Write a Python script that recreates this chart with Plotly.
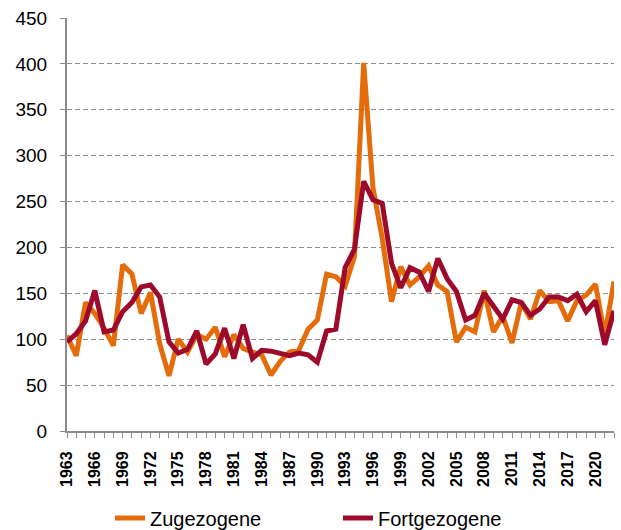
import plotly.graph_objects as go

years = list(range(1963, 2023))

zugezogene = [104, 82, 140, 128, 112, 93, 181, 171, 128, 151,
              95, 60, 100, 86, 105, 100, 113, 81, 105, 90,
              86, 83, 61, 76, 86, 88, 111, 121, 171, 168,
              158, 190, 401, 265, 210, 141, 179, 159, 168, 180,
              159, 152, 97, 113, 108, 153, 108, 125, 96, 140,
              122, 153, 141, 142, 120, 142, 148, 160, 104, 163]

fortgezogene = [97, 106, 120, 153, 108, 110, 130, 140, 157, 159,
                146, 97, 85, 89, 109, 73, 84, 112, 79, 116,
                79, 88, 87, 85, 82, 85, 83, 75, 109, 111,
                178, 198, 272, 252, 248, 183, 156, 178, 173, 152,
                188, 166, 152, 121, 126, 150, 137, 122, 143, 140,
                126, 133, 146, 146, 142, 149, 130, 142, 94, 131]

x_tickvals = list(range(1963, 2021, 3))
x_ticktext = [str(v) for v in x_tickvals]
y_tickvals = list(range(0, 451, 50))

ORANGE = "#E46C0A"
DARKRED = "#9E0A2B"
AXIS = "#8C8C8C"

fig = go.Figure()
fig.add_trace(go.Scatter(x=years, y=zugezogene, mode="lines", name="Zugezogene",
                         line=dict(color=ORANGE, width=5)))
fig.add_trace(go.Scatter(x=years, y=fortgezogene, mode="lines", name="Fortgezogene",
                         line=dict(color=DARKRED, width=5)))

fig.update_layout(
    width=621, height=530,
    margin=dict(l=67, r=7, t=18, b=99, autoexpand=False),
    paper_bgcolor="white", plot_bgcolor="white",
    font=dict(family="Arial, Liberation Sans, sans-serif", color="#000000"),
    showlegend=True,
    legend=dict(orientation="h", xref="container", yref="container",
                x=110 / 621, y=1 - 518 / 530, xanchor="left", yanchor="middle",
                entrywidth=183, entrywidthmode="pixels",
                font=dict(size=20, color="#000000"),
                bgcolor="rgba(0,0,0,0)", itemclick=False),
    xaxis=dict(
        range=[1963, 2022], showgrid=False, zeroline=False, automargin=False,
        showline=True, linecolor=AXIS, linewidth=2,
        tickmode="array", tickvals=x_tickvals, ticktext=x_ticktext,
        tickangle=-90, ticks="outside", ticklen=5, tickcolor=AXIS, tickwidth=1.3,
        ticklabelstandoff=7,
        tickfont=dict(family="Arial, Liberation Sans, sans-serif",
                      size=16, weight="bold", color="#000000"),
        minor=dict(dtick=1, tick0=1963, ticks="outside", ticklen=5,
                   tickcolor=AXIS, tickwidth=1.3, showgrid=False),
    ),
    yaxis=dict(
        range=[0, 450], tickmode="array", tickvals=y_tickvals, automargin=False,
        showgrid=True, gridcolor=AXIS, gridwidth=1.3, griddash="5px,3px",
        zeroline=False, showline=True, linecolor=AXIS, linewidth=2,
        ticks="outside", ticklen=5, tickcolor=AXIS, tickwidth=1.3,
        ticklabelstandoff=9,
        tickfont=dict(size=19, color="#000000"),
    ),
)

fig.write_html("out.html", config={"displayModeBar": False},
               post_script="document.body.style.margin='0px';")
